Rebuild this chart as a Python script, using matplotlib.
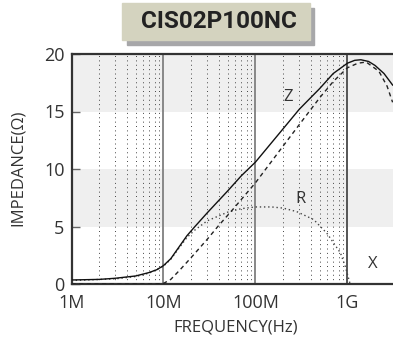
import numpy as np
import matplotlib
matplotlib.use("Agg")
import matplotlib.pyplot as plt
from matplotlib.patches import Rectangle

# impedance curves (frequency in Hz, ohms)
z_freq = [1e6, 2e6, 3e6, 5e6, 7e6, 8.5e6, 10e6, 12e6, 15e6, 18e6, 22e6, 30e6, 50e6, 70e6,
          100e6, 200e6, 300e6, 500e6, 700e6, 1e9, 1.2e9, 1.4e9, 1.7e9, 2e9, 2.5e9, 3.1e9]
z_vals = [0.35, 0.4, 0.5, 0.7, 1.0, 1.25, 1.6, 2.2, 3.3, 4.2, 5.0, 6.2, 8.1, 9.4,
          10.6, 13.5, 15.2, 17.0, 18.3, 19.2, 19.45, 19.5, 19.35, 19.0, 18.3, 17.3]

x_freq = [1e6, 8e6, 10e6, 12e6, 15e6, 20e6, 30e6, 39e6, 57e6, 100e6,
          200e6, 330e6, 500e6, 700e6, 1e9, 1.3e9, 1.6e9, 2.2e9, 2.7e9, 3.1e9]
x_vals = [0.0, 0.0, 0.05, 0.4, 1.2, 2.3, 3.9, 5.0, 6.5, 8.8,
          12.0, 14.3, 16.2, 17.6, 18.8, 19.2, 19.3, 18.5, 17.2, 15.8]

r_freq = [1e6, 3e6, 5e6, 7e6, 10e6, 12e6, 15e6, 18e6, 22e6, 30e6, 50e6, 70e6, 100e6,
          150e6, 200e6, 280e6, 430e6, 600e6, 840e6, 950e6, 1.07e9]
r_vals = [0.3, 0.45, 0.65, 0.95, 1.55, 2.15, 3.2, 4.05, 4.7, 5.5, 6.25, 6.55, 6.7,
          6.7, 6.6, 6.3, 5.6, 4.4, 2.7, 1.5, 0.0]

x_ticks = [1e6, 1e7, 1e8, 1e9]
x_tick_labels = ["1M", "10M", "100M", "1G"]
y_ticks = [0, 5, 10, 15, 20]

plt.rcParams["font.family"] = ["Open Sans", "DejaVu Sans"]

fig = plt.figure(figsize=(3.93, 3.40), dpi=100)
ax = fig.add_axes([71.5 / 393, 56 / 340, 1 - 71.5 / 393, 230 / 340])

ax.set_xscale("log")
ax.set_xlim(1e6, 3.13e9)
ax.set_ylim(0, 20)

# alternating grey bands
for lo, hi in [(15, 20), (5, 10)]:
    ax.axhspan(lo, hi, color="#efefef", zorder=0, lw=0)

# dotted minor grid up to 1G
for dec in [1e6, 1e7, 1e8]:
    for m in range(2, 10):
        ax.axvline(m * dec, color="#444444", lw=0.7, ls=(0, (1, 3.5)), zorder=1)
for f, c in [(1e7, "#888888"), (1e8, "#888888"), (1e9, "#555555")]:
    ax.axvline(f, color=c, lw=1.4, zorder=2)

ax.plot(z_freq, z_vals, color="#111111", lw=1.0, zorder=5)
ax.plot(x_freq, x_vals, color="#222222", lw=1.0, ls=(0, (3, 2.5)), zorder=5)
ax.plot(r_freq, r_vals, color="#444444", lw=1.0, ls=(0, (1, 2)), zorder=4)

ax.text(2.25e8, 16.3, "Z", fontsize=12, color="#333333", ha="center", va="center")
ax.text(3.06e8, 7.4, "R", fontsize=12, color="#333333", ha="center", va="center")
ax.text(1.9e9, 1.7, "X", fontsize=12, color="#333333", ha="center", va="center")

ax.set_xticks(x_ticks)
ax.set_xticklabels(x_tick_labels)
ax.xaxis.set_minor_locator(matplotlib.ticker.NullLocator())
ax.set_yticks(y_ticks)
ax.tick_params(axis="x", length=0, pad=7, labelsize=13, labelcolor="#333333")
ax.tick_params(axis="y", direction="in", length=6, width=1, color="#666666",
               pad=5, labelsize=13, labelcolor="#333333")

for side in ["left", "bottom", "top"]:
    ax.spines[side].set_color("#333333")
    ax.spines[side].set_linewidth(1.6)
ax.spines["right"].set_visible(False)

fig.text(236 / 393, 1 - 327 / 340, "FREQUENCY(Hz)", fontsize=12,
         color="#333333", ha="center", va="center")
fig.text(18 / 393, 1 - 168 / 340, "IMPEDANCE(Ω)", fontsize=12,
         color="#333333", ha="center", va="center", rotation=90)

# title box with shadow
fig.patches.append(Rectangle((127 / 393, 1 - 45 / 340), 187 / 393, 37 / 340,
                             transform=fig.transFigure, color="#a7a7a9", zorder=0))
fig.patches.append(Rectangle((122 / 393, 1 - 40 / 340), 188 / 393, 37 / 340,
                             transform=fig.transFigure, color="#d4d3bf", zorder=1))
fig.text(219 / 393, 1 - 22 / 340, "CIS02P100NC", fontsize=17.5, fontweight="bold",
         family=["Roboto", "DejaVu Sans"], color="#222222",
         ha="center", va="center", zorder=3)

fig.savefig("out.png", dpi=100)
